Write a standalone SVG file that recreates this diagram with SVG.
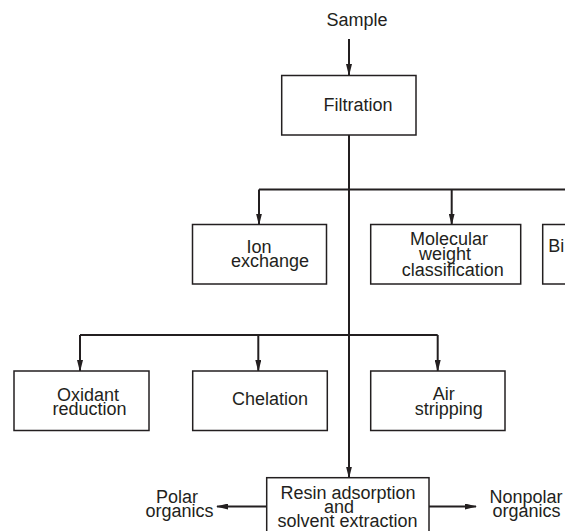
<svg xmlns="http://www.w3.org/2000/svg" width="565" height="531" viewBox="0 0 565 531">
  <style>
    .box { fill: #fff; stroke: #231f20; stroke-width: 1.5; }
    .line { fill: none; stroke: #231f20; stroke-width: 2; }
    .arrow { fill: none; stroke: #231f20; stroke-width: 2; marker-end: url(#head); }
    text { font-family: "Liberation Sans", Arial, sans-serif; font-size: 18px; fill: #231f20; text-anchor: middle; }
  </style>
  <defs>
    <marker id="head" viewBox="0 0 12 6" refX="11" refY="3" markerWidth="12" markerHeight="6" markerUnits="userSpaceOnUse" orient="auto">
      <path d="M0,0 L12,3 L0,6 Z" fill="#231f20"/>
    </marker>
  </defs>
  <rect width="565" height="531" fill="#fff"/>

  <!-- connectors -->
  <g id="connectors">
    <path class="arrow" d="M349,39 V75"/>
    <path class="arrow" d="M349,135 V477.5"/>
    <path class="line" d="M259,189.5 H566"/>
    <path class="arrow" d="M259,189.5 V224.5"/>
    <path class="arrow" d="M451.7,189.5 V224.5"/>
    <path class="line" d="M80,335 H437.7"/>
    <path class="arrow" d="M80,335 V371"/>
    <path class="arrow" d="M258.3,335 V371"/>
    <path class="arrow" d="M437.7,335 V371"/>
    <path class="arrow" d="M266.7,506.5 H217"/>
    <path class="arrow" d="M429,506.5 H476"/>
  </g>

  <g id="sample">
    <text x="357" y="26">Sample</text>
  </g>

  <g id="filtration">
    <rect class="box" x="281.7" y="75.5" width="134.3" height="59.5"/>
    <text x="358" y="111">Filtration</text>
  </g>

  <g id="ion-exchange">
    <rect class="box" x="192.5" y="224.5" width="134" height="59.5"/>
    <text x="259" y="253">Ion</text>
    <text x="270" y="267">exchange</text>
  </g>

  <g id="molecular-weight">
    <rect class="box" x="370.7" y="224.5" width="150" height="59.5"/>
    <text x="449" y="245">Molecular</text>
    <text x="445" y="260">weight</text>
    <text x="452.7" y="275.5">classification</text>
  </g>

  <g id="bi">
    <rect class="box" x="542.7" y="224.5" width="40" height="59.5"/>
    <text x="548.3" y="252" style="text-anchor:start">Bi</text>
  </g>

  <g id="oxidant-reduction">
    <rect class="box" x="14" y="371" width="135" height="59.5"/>
    <text x="88" y="400.5">Oxidant</text>
    <text x="89.5" y="414.5">reduction</text>
  </g>

  <g id="chelation">
    <rect class="box" x="192.7" y="371" width="134.6" height="59.5"/>
    <text x="270" y="405">Chelation</text>
  </g>

  <g id="air-stripping">
    <rect class="box" x="370.7" y="371" width="134.3" height="59.5"/>
    <text x="443.7" y="400">Air</text>
    <text x="448.7" y="415">stripping</text>
  </g>

  <g id="resin-adsorption">
    <rect class="box" x="266.7" y="477.7" width="162.3" height="70"/>
    <text x="348" y="498.5">Resin adsorption</text>
    <text x="339" y="512.5">and</text>
    <text x="347.5" y="527">solvent extraction</text>
  </g>

  <g id="polar-organics">
    <text x="177" y="503">Polar</text>
    <text x="179.5" y="516.5">organics</text>
  </g>

  <g id="nonpolar-organics">
    <text x="526" y="503">Nonpolar</text>
    <text x="526.5" y="516.5">organics</text>
  </g>
</svg>
